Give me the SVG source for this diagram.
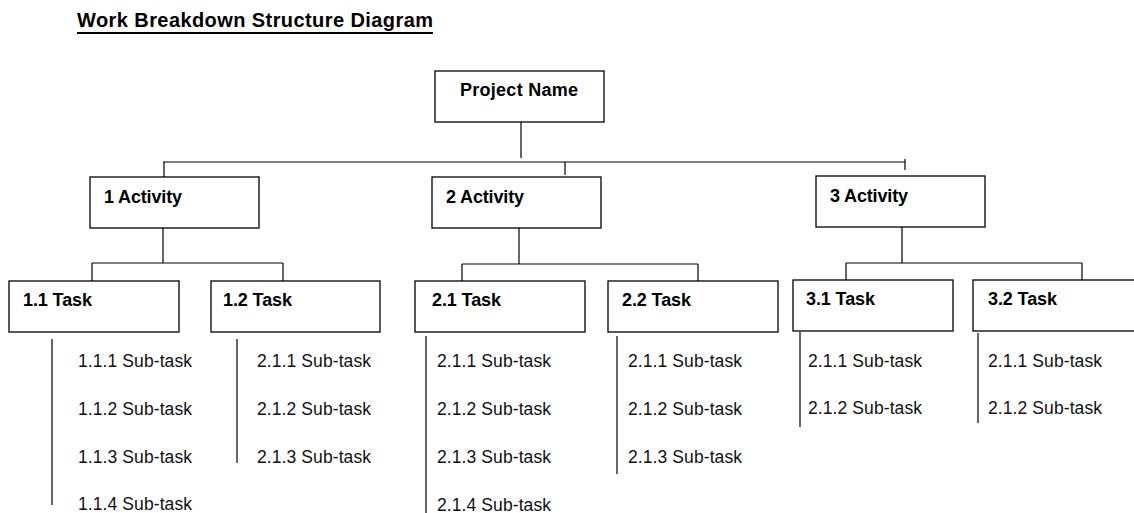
<svg xmlns="http://www.w3.org/2000/svg" width="1134" height="513" viewBox="0 0 1134 513">
<style>
.box{fill:#fff;stroke:#000;stroke-width:1.3}
.b{font-family:"Liberation Sans",Arial,sans-serif;font-weight:bold;font-size:18px;fill:#000}
.t{font-family:"Liberation Sans",Arial,sans-serif;font-weight:bold;font-size:20px;fill:#000}
.s{font-family:"Liberation Sans",Arial,sans-serif;font-size:17.5px;fill:#111}
.c line{stroke:#000;stroke-width:1.2}
</style>
<rect width="1134" height="513" fill="#fff"/>
<g id="title">
<text class="t" x="77" y="27" textLength="356" lengthAdjust="spacing">Work Breakdown Structure Diagram</text>
<line x1="77" y1="33" x2="433" y2="33" stroke="#000" stroke-width="2.2"/>
</g>
<g class="c" id="connectors">
<line x1="521" y1="122" x2="521" y2="158"/>
<line x1="163" y1="162" x2="905" y2="162"/>
<line x1="164" y1="162" x2="164" y2="177"/>
<line x1="565" y1="162" x2="565" y2="175"/>
<line x1="905" y1="159" x2="905" y2="170"/>
<line x1="163" y1="228" x2="163" y2="263"/>
<line x1="92" y1="263" x2="283" y2="263"/>
<line x1="92" y1="263" x2="92" y2="281"/>
<line x1="283" y1="263" x2="283" y2="281"/>
<line x1="519" y1="228" x2="519" y2="264"/>
<line x1="462" y1="264" x2="698" y2="264"/>
<line x1="462" y1="264" x2="462" y2="281"/>
<line x1="698" y1="264" x2="698" y2="281"/>
<line x1="902" y1="227" x2="902" y2="263"/>
<line x1="846" y1="263" x2="1082" y2="263"/>
<line x1="846" y1="263" x2="846" y2="280"/>
<line x1="1082" y1="263" x2="1082" y2="280"/>
<line x1="52" y1="339" x2="52" y2="505"/>
<line x1="237" y1="339" x2="237" y2="463"/>
<line x1="426" y1="336" x2="426" y2="513"/>
<line x1="617" y1="336" x2="617" y2="474"/>
<line x1="800" y1="332" x2="800" y2="427"/>
<line x1="978" y1="333" x2="978" y2="423"/>
</g>
<g id="project">
<rect class="box" x="435" y="71" width="169" height="51"/>
<text class="b" x="460" y="96" textLength="118" lengthAdjust="spacing">Project Name</text>
</g>
<g id="a1">
<rect class="box" x="90" y="177" width="169" height="51"/>
<text class="b" x="104" y="203" textLength="78" lengthAdjust="spacing">1 Activity</text>
</g>
<g id="a2">
<rect class="box" x="432" y="177" width="169" height="51"/>
<text class="b" x="446" y="203" textLength="78" lengthAdjust="spacing">2 Activity</text>
</g>
<g id="a3">
<rect class="box" x="816" y="176" width="169" height="51"/>
<text class="b" x="830" y="202" textLength="78" lengthAdjust="spacing">3 Activity</text>
</g>
<g id="t11">
<rect class="box" x="9" y="281" width="170" height="51"/>
<text class="b" x="23" y="306" textLength="69" lengthAdjust="spacing">1.1 Task</text>
</g>
<g id="t12">
<rect class="box" x="211" y="281" width="169" height="51"/>
<text class="b" x="223" y="306" textLength="69" lengthAdjust="spacing">1.2 Task</text>
</g>
<g id="t21">
<rect class="box" x="415" y="281" width="170" height="51"/>
<text class="b" x="432" y="306" textLength="69" lengthAdjust="spacing">2.1 Task</text>
</g>
<g id="t22">
<rect class="box" x="608" y="281" width="170" height="51"/>
<text class="b" x="622" y="306" textLength="69" lengthAdjust="spacing">2.2 Task</text>
</g>
<g id="t31">
<rect class="box" x="793" y="280" width="160" height="51"/>
<text class="b" x="806" y="305" textLength="69" lengthAdjust="spacing">3.1 Task</text>
</g>
<g id="t32">
<rect class="box" x="973" y="280" width="170" height="51"/>
<text class="b" x="988" y="305" textLength="69" lengthAdjust="spacing">3.2 Task</text>
</g>
<g id="s11">
<text class="s" x="78" y="367" textLength="114" lengthAdjust="spacing">1.1.1 Sub-task</text>
<text class="s" x="78" y="415" textLength="114" lengthAdjust="spacing">1.1.2 Sub-task</text>
<text class="s" x="78" y="463" textLength="114" lengthAdjust="spacing">1.1.3 Sub-task</text>
<text class="s" x="78" y="510" textLength="114" lengthAdjust="spacing">1.1.4 Sub-task</text>
</g>
<g id="s12">
<text class="s" x="257" y="367" textLength="114" lengthAdjust="spacing">2.1.1 Sub-task</text>
<text class="s" x="257" y="415" textLength="114" lengthAdjust="spacing">2.1.2 Sub-task</text>
<text class="s" x="257" y="463" textLength="114" lengthAdjust="spacing">2.1.3 Sub-task</text>
</g>
<g id="s21">
<text class="s" x="437" y="367" textLength="114" lengthAdjust="spacing">2.1.1 Sub-task</text>
<text class="s" x="437" y="415" textLength="114" lengthAdjust="spacing">2.1.2 Sub-task</text>
<text class="s" x="437" y="463" textLength="114" lengthAdjust="spacing">2.1.3 Sub-task</text>
<text class="s" x="437" y="511" textLength="114" lengthAdjust="spacing">2.1.4 Sub-task</text>
</g>
<g id="s22">
<text class="s" x="628" y="367" textLength="114" lengthAdjust="spacing">2.1.1 Sub-task</text>
<text class="s" x="628" y="415" textLength="114" lengthAdjust="spacing">2.1.2 Sub-task</text>
<text class="s" x="628" y="463" textLength="114" lengthAdjust="spacing">2.1.3 Sub-task</text>
</g>
<g id="s31">
<text class="s" x="808" y="367" textLength="114" lengthAdjust="spacing">2.1.1 Sub-task</text>
<text class="s" x="808" y="414" textLength="114" lengthAdjust="spacing">2.1.2 Sub-task</text>
</g>
<g id="s32">
<text class="s" x="988" y="367" textLength="114" lengthAdjust="spacing">2.1.1 Sub-task</text>
<text class="s" x="988" y="414" textLength="114" lengthAdjust="spacing">2.1.2 Sub-task</text>
</g>
</svg>
